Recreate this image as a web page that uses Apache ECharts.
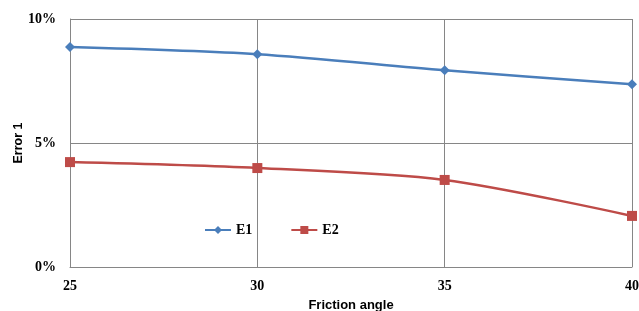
<!DOCTYPE html>
<html>
<head>
<meta charset="utf-8">
<script src="https://cdn.jsdelivr.net/npm/echarts@6/dist/echarts.min.js"></script>
<style>
  html, body { margin: 0; padding: 0; background: #fff; }
  #main { width: 639px; height: 311px; }
</style>
</head>
<body>
<div id="main"></div>
<script>
const angles = [25, 30, 35, 40];
const e1 = [8.87, 8.58, 7.93, 7.37];
const e2 = [4.23, 3.99, 3.51, 2.06];

const chart = echarts.init(document.getElementById('main'));

const serifBold = {
  fontFamily: 'Liberation Serif',
  fontWeight: 'bold',
  fontSize: 14,
  color: '#000'
};

var option = {
  animation: false,
  grid: {
    left: 70,
    right: 7,
    top: 19,
    bottom: 44,
    outerBoundsMode: 'none',
    containLabel: false
  },
  legend: {
    left: 199,
    top: 218,
    itemWidth: 26,
    itemHeight: 10,
    itemGap: 38,
    textStyle: serifBold,
    data: ['E1', 'E2']
  },
  xAxis: {
    type: 'value',
    min: 25,
    max: 40,
    interval: 5,
    name: 'Friction angle',
    nameLocation: 'middle',
    nameGap: 32,
    nameMoveOverlap: false,
    nameTextStyle: {
      fontFamily: 'Liberation Sans',
      fontWeight: 'bold',
      fontSize: 13,
      color: '#000'
    },
    axisLine: { lineStyle: { color: '#868686' } },
    axisTick: { show: false },
    axisLabel: Object.assign({ margin: 12 }, serifBold),
    splitLine: { show: true, lineStyle: { color: '#868686', width: 1 } }
  },
  yAxis: {
    type: 'value',
    min: 0,
    max: 10,
    interval: 5,
    name: 'Error 1',
    nameLocation: 'middle',
    nameGap: 45,
    nameMoveOverlap: false,
    nameTextStyle: {
      fontFamily: 'Liberation Sans',
      fontWeight: 'bold',
      fontSize: 12.5,
      color: '#000'
    },
    axisLine: { show: true, lineStyle: { color: '#868686' } },
    axisTick: { show: false },
    axisLabel: Object.assign({ margin: 14, formatter: '{value}%' }, serifBold),
    splitLine: { show: true, lineStyle: { color: '#868686', width: 1 } }
  },
  series: [{
    name: 'E1',
    type: 'line',
    smooth: 0.3,
    data: angles.map((a, i) => [a, e1[i]]),
    symbol: 'diamond',
    symbolSize: 10,
    itemStyle: { color: '#4a7ebb' },
    lineStyle: { color: '#4a7ebb', width: 2.5 }
  }, {
    name: 'E2',
    type: 'line',
    smooth: 0.3,
    data: angles.map((a, i) => [a, e2[i]]),
    symbol: 'rect',
    symbolSize: 10,
    itemStyle: { color: '#be4b48' },
    lineStyle: { color: '#be4b48', width: 2.5 }
  }]
};

chart.setOption(option);
</script>
</body>
</html>
